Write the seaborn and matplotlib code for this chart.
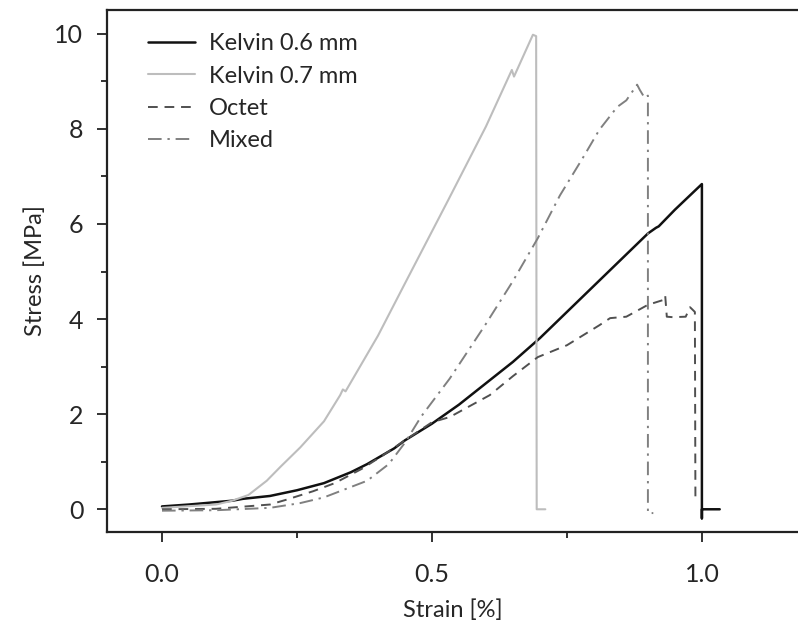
import numpy as np
import pandas as pd
import matplotlib
matplotlib.use("Agg")
import matplotlib.pyplot as plt
import seaborn as sns

# stress-strain curves
k06_strain = [0.0, 0.05, 0.13, 0.15, 0.2, 0.25, 0.3, 0.35, 0.38, 0.43, 0.45, 0.5, 0.55, 0.6, 0.65,
              0.7, 0.75, 0.8, 0.85, 0.9, 0.915, 0.92, 0.95, 1.0, 1.0, 1.0, 1.0, 1.033]
k06_stress = [0.06, 0.1, 0.18, 0.22, 0.28, 0.4, 0.55, 0.78, 0.95, 1.28, 1.45, 1.8, 2.2, 2.65, 3.1,
              3.6, 4.15, 4.7, 5.25, 5.8, 5.92, 5.95, 6.3, 6.84, 6.0, -0.19, 0.0, 0.0]

k07_strain = [0.0, 0.1, 0.13, 0.16, 0.194, 0.22, 0.256, 0.3, 0.33, 0.335, 0.34, 0.4, 0.45, 0.53,
              0.6, 0.648, 0.652, 0.687, 0.693, 0.694, 0.71]
k07_stress = [0.03, 0.1, 0.18, 0.3, 0.6, 0.9, 1.3, 1.85, 2.4, 2.52, 2.48, 3.65, 4.75, 6.5,
              8.05, 9.24, 9.1, 9.98, 9.95, 0.0, 0.0]

oct_strain = [0.0, 0.1, 0.2, 0.23, 0.28, 0.32, 0.37, 0.41, 0.45, 0.5, 0.533, 0.607, 0.65, 0.696,
              0.75, 0.81, 0.83, 0.86, 0.9, 0.928, 0.932, 0.935, 0.946, 0.97, 0.978, 0.987, 0.988]
oct_stress = [0.0, 0.01, 0.1, 0.2, 0.38, 0.55, 0.85, 1.14, 1.45, 1.83, 1.94, 2.4, 2.8, 3.2,
              3.45, 3.87, 4.02, 4.05, 4.3, 4.4, 4.5, 4.05, 4.04, 4.05, 4.25, 4.15, 0.2]

mix_strain = [0.0, 0.1, 0.2, 0.256, 0.3, 0.38, 0.42, 0.45, 0.48, 0.533, 0.6, 0.65, 0.696, 0.737,
              0.78, 0.81, 0.843, 0.86, 0.88, 0.885, 0.894, 0.9, 0.9, 0.91]
mix_stress = [-0.03, -0.02, 0.03, 0.13, 0.25, 0.6, 0.95, 1.4, 1.95, 2.75, 3.9, 4.8, 5.7, 6.6,
              7.4, 7.98, 8.46, 8.6, 8.93, 8.82, 8.65, 8.7, -0.08, -0.08]

labels = ["Kelvin 0.6 mm", "Kelvin 0.7 mm", "Octet", "Mixed"]

sns.set_style("ticks")
plt.rcParams['font.family'] = ['Lato', 'DejaVu Sans']

fig = plt.figure(figsize=(7.98, 6.26), dpi=100)
ax = fig.add_axes([0.134, 0.15, 0.866, 0.834])

series = [
    (k06_strain, k06_stress, "#111111", "-", 1.8),
    (k07_strain, k07_stress, "#bdbdbd", "-", 1.5),
    (oct_strain, oct_stress, "#505050", (0, (5, 3.5)), 1.4),
    (mix_strain, mix_stress, "#808080", (0, (7, 3, 1.2, 3)), 1.4),
]
for (x, y, c, ls, lw), lab in zip(series, labels):
    sns.lineplot(x=x, y=y, ax=ax, color=c, linestyle=ls, linewidth=lw,
                 sort=False, estimator=None, label=lab)

ax.set_xlim(-0.102, 1.178)
ax.set_ylim(-0.48, 10.5)
ax.set_xticks([0.0, 0.5, 1.0])
ax.set_xticks([0.25, 0.75], minor=True)
ax.set_xticklabels(["0.0", "0.5", "1.0"])
ax.set_yticks([0, 2, 4, 6, 8, 10])
ax.set_yticks([1, 3, 5, 7, 9], minor=True)
ax.tick_params(axis="both", which="major", length=7, width=1.3, labelsize=18, color="#222222")
ax.tick_params(axis="both", which="minor", length=4, width=1.3, color="#222222")
ax.tick_params(axis="x", pad=15)
ax.tick_params(axis="y", pad=10)

for s in ["left", "bottom", "top"]:
    ax.spines[s].set_linewidth(1.6)
    ax.spines[s].set_color("#222222")
ax.spines["right"].set_visible(False)

ax.set_xlabel("Strain [%]", fontsize=17, labelpad=10)
ax.set_ylabel("Stress [MPa]", fontsize=17, labelpad=6)

ax.legend(loc="upper left", frameon=False, fontsize=17, handlelength=2.0,
          handletextpad=0.6, labelspacing=0.48, borderaxespad=0.3,
          bbox_to_anchor=(0.035, 0.987))

fig.savefig("out.png", dpi=100)
